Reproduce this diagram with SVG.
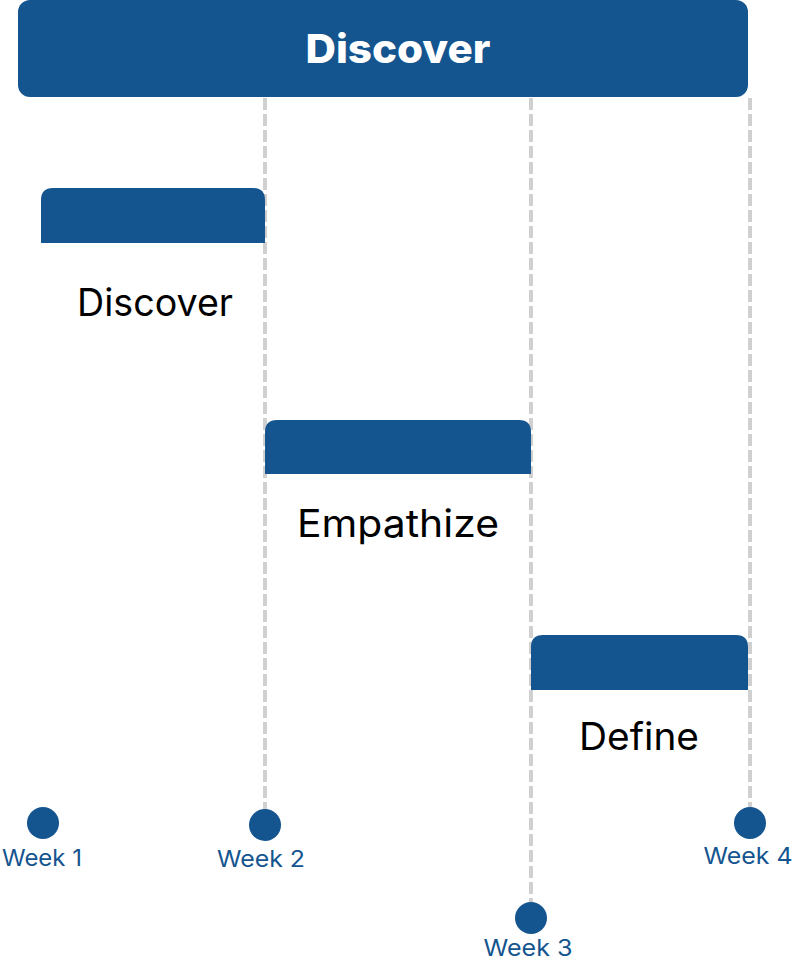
<svg xmlns="http://www.w3.org/2000/svg" width="795" height="961" viewBox="0 0 795 961">
<style>
.bar{fill:#14558f}
.grid{stroke:#d0d0d0;stroke-width:4;stroke-dasharray:12 4;fill:none}
.dot{fill:#14558f}
.wk{font-family:Inter,"Liberation Sans",sans-serif;font-size:23px;fill:#14558f;text-anchor:middle}
.lbl{font-family:Inter,"Liberation Sans",sans-serif;font-size:38px;fill:#000;text-anchor:middle}
.title{font-family:Inter,"Liberation Sans",sans-serif;font-size:40px;font-weight:800;fill:#fff;text-anchor:middle}
</style>
<rect width="795" height="961" fill="#fff"/>
<g id="connectors">
<line class="grid" x1="265" y1="98" x2="265" y2="812"/>
<line class="grid" x1="531" y1="98" x2="531" y2="905"/>
<line class="grid" x1="750" y1="98" x2="750" y2="810"/>
</g>
<g id="header">
<rect class="bar" x="18" y="0" width="730" height="97" rx="12"/>
<text class="title" x="398" y="63" textLength="185" lengthAdjust="spacingAndGlyphs">Discover</text>
</g>
<g id="task-discover">
<path class="bar" d="M41 243 V200 Q41 188 53 188 H253 Q265 188 265 200 V243 Z"/>
<text class="lbl" x="155" y="316" textLength="156" lengthAdjust="spacingAndGlyphs">Discover</text>
</g>
<g id="task-empathize">
<path class="bar" d="M265 474 V432 Q265 420 277 420 H519 Q531 420 531 432 V474 Z"/>
<text class="lbl" x="398" y="537" textLength="202" lengthAdjust="spacingAndGlyphs">Empathize</text>
</g>
<g id="task-define">
<path class="bar" d="M531 690 V647 Q531 635 543 635 H736 Q748 635 748 647 V690 Z"/>
<text class="lbl" x="639" y="750" textLength="120" lengthAdjust="spacingAndGlyphs">Define</text>
</g>
<g id="week1"><circle class="dot" cx="43" cy="823" r="16"/><text class="wk" x="42" y="866" textLength="80" lengthAdjust="spacingAndGlyphs">Week 1</text></g>
<g id="week2"><circle class="dot" cx="265" cy="825" r="16"/><text class="wk" x="261" y="867" textLength="88" lengthAdjust="spacingAndGlyphs">Week 2</text></g>
<g id="week3"><circle class="dot" cx="531" cy="918" r="16"/><text class="wk" x="528" y="956" textLength="89" lengthAdjust="spacingAndGlyphs">Week 3</text></g>
<g id="week4"><circle class="dot" cx="750" cy="823" r="16"/><text class="wk" x="748" y="864" textLength="89" lengthAdjust="spacingAndGlyphs">Week 4</text></g>
</svg>
